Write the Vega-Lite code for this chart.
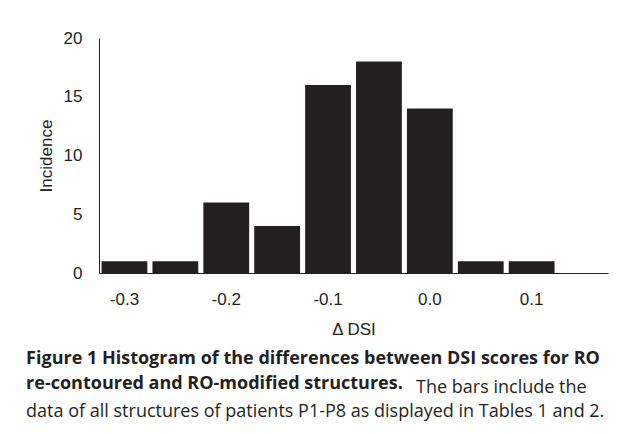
{
  "$schema": "https://vega.github.io/schema/vega-lite/v6.json",
  "autosize": {"type": "none"},
  "width": 509,
  "height": 235,
  "padding": {"left": 99, "top": 38, "right": 21, "bottom": 161},
  "background": "white",
  "data": {
    "values": [
      {"bin": "-0.3", "count": 1},
      {"bin": "-0.25", "count": 1},
      {"bin": "-0.2", "count": 6},
      {"bin": "-0.15", "count": 4},
      {"bin": "-0.1", "count": 16},
      {"bin": "-0.05", "count": 18},
      {"bin": "0.0", "count": 14},
      {"bin": "0.05", "count": 1},
      {"bin": "0.1", "count": 1},
      {"bin": "0.15", "count": 0}
    ]
  },
  "title": {
    "text": ["Figure 1 Histogram of the differences between DSI scores for RO", "re-contoured and RO-modified structures."],
    "subtitle": ["\u2800\u2800\u2800\u2800\u2800\u2800\u2800\u2800\u2800\u2800\u2800\u2800\u2800\u2800\u2800\u2800\u2800\u2800\u2800\u2800\u2800\u2800\u2800\u2800\u2800\u2800\u2800\u2800\u2800\u2800The bars include the", "data of all structures of patients P1-P8 as displayed in Tables 1 and 2."],
    "orient": "bottom",
    "anchor": "start",
    "frame": "bounds",
    "dx": -11,
    "offset": 13,
    "font": "Open Sans",
    "fontSize": 18,
    "fontWeight": "bold",
    "color": "#231f20",
    "lineHeight": 24.5,
    "subtitleFont": "Open Sans",
    "subtitleFontSize": 18,
    "subtitleFontWeight": "normal",
    "subtitleColor": "#231f20",
    "subtitleLineHeight": 24.5,
    "subtitlePadding": -14
  },
  "mark": {"type": "bar", "color": "#231f20"},
  "encoding": {
    "x": {
      "field": "bin",
      "type": "ordinal",
      "sort": null,
      "scale": {"paddingInner": 0.1, "paddingOuter": 0.05},
      "axis": {
        "title": "\u0394 DSI",
        "labelAngle": 0,
        "ticks": false,
        "tickSize": 0,
        "labelPadding": 18,
        "labelExpr": "indexof(['-0.3','-0.2','-0.1','0.0','0.1'], datum.label) >= 0 ? datum.label : ''",
        "titlePadding": 14
      }
    },
    "y": {
      "field": "count",
      "type": "quantitative",
      "scale": {"domain": [0, 20], "nice": false},
      "axis": {
        "title": "Incidence",
        "values": [0, 5, 10, 15, 20],
        "grid": false,
        "ticks": false,
        "tickSize": 0,
        "labelPadding": 17,
        "titlePadding": 8
      }
    }
  },
  "config": {
    "view": {"stroke": null},
    "axis": {
      "domainColor": "#231f20",
      "domainWidth": 1,
      "labelFont": "Liberation Sans",
      "labelFontSize": 17,
      "labelColor": "#231f20",
      "titleFont": "Liberation Sans",
      "titleFontSize": 17,
      "titleFontWeight": "normal",
      "titleColor": "#231f20"
    }
  }
}
